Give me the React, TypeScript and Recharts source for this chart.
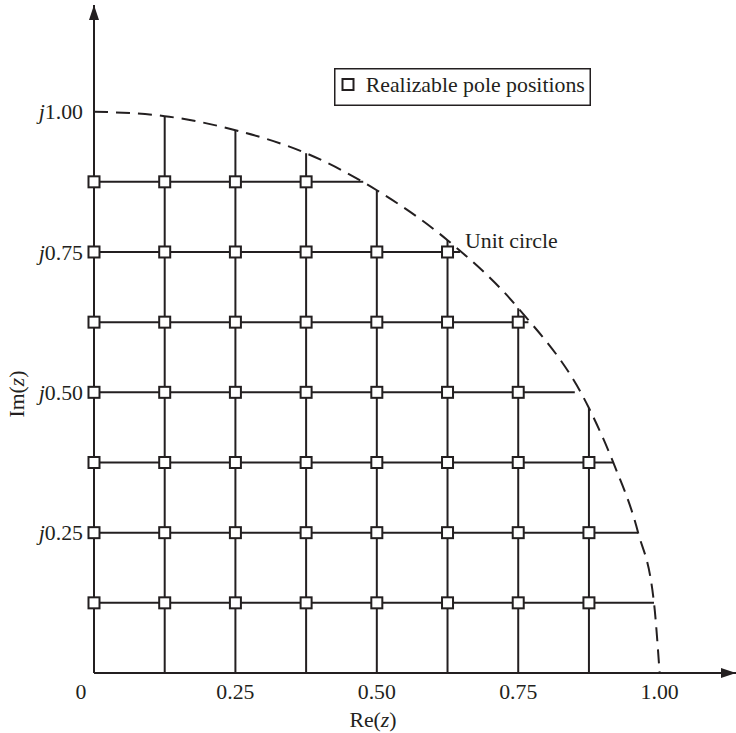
import React from 'react'
import { ComposedChart, Legend, Line, ReferenceDot, ReferenceLine, Scatter, XAxis, YAxis } from 'recharts'

// grid steps (Re and Im) of the quantized pole lattice
const gridSteps = [0.125, 0.25, 0.375, 0.5, 0.625, 0.75, 0.875]
// height where each vertical grid line stops at the dashed circle
const colTops = [0.992, 0.967, 0.926, 0.86, 0.771, 0.65, 0.472]
// Re where each horizontal grid line stops at the dashed circle
const rowEnds = [0.99, 0.962, 0.918, 0.85, 0.768, 0.647, 0.476]
// right-most realizable pole on each row (same order as gridSteps)
const rowPoleMax = [0.875, 0.875, 0.875, 0.75, 0.75, 0.625, 0.375]
const poleRe = [0, 0.125, 0.25, 0.375, 0.5, 0.625, 0.75, 0.875]

// dashed unit circle
const circleRe = [0, 0.125, 0.25, 0.375, 0.5, 0.625, 0.75, 0.875, 0.918, 0.962, 0.99, 1.0]
const circleIm = [1.0, 0.992, 0.967, 0.926, 0.86, 0.771, 0.65, 0.472, 0.375, 0.25, 0.125, 0]

const xTicks = [0, 0.25, 0.5, 0.75, 1.0]
const yTicks = [0.25, 0.5, 0.75, 1.0]

const poles = gridSteps.flatMap((im, i) =>
  poleRe.filter((re) => re <= rowPoleMax[i]).map((re) => ({ re, im }))
)
const circle = circleRe.map((re, i) => ({ re, im: circleIm[i] }))

const INK = '#231f20'
const FONT = '"Liberation Serif", "Times New Roman", serif'
const FS = 21.8

const XTick = ({ x, y, payload }: any) => {
  const v = payload.value
  return (
    <text x={v === 0 ? x - 13 : x} y={y + 26} textAnchor="middle" fontFamily={FONT} fontSize={FS} fill={INK}>
      {v === 0 ? '0' : v.toFixed(2)}
    </text>
  )
}

const YTick = ({ x, y, payload }: any) => (
  <text x={x} y={y} dy="0.35em" textAnchor="end" fontFamily={FONT} fontSize={FS} fill={INK}>
    <tspan fontStyle="italic">j</tspan>
    {payload.value.toFixed(2)}
  </text>
)

const PoleSquare = ({ cx, cy }: any) => (
  <rect x={cx - 5.5} y={cy - 5.5} width={11} height={11} fill="#fff" stroke={INK} strokeWidth={2} />
)

const PoleLegend = ({ payload }: any) => {
  const item = (payload || []).find((p: any) => p.type !== 'none')
  return (
    <svg width={257} height={38} style={{ display: 'block' }}>
      <rect x={0.75} y={0.75} width={255.5} height={36.5} fill="#fff" stroke={INK} strokeWidth={1.5} />
      <rect x={8.5} y={11} width={11} height={11} fill="#fff" stroke={INK} strokeWidth={2} />
      <text x={31.7} y={24} fontFamily={FONT} fontSize={FS} fill={INK}>
        {item ? item.value : 'Realizable pole positions'}
      </text>
    </svg>
  )
}

export default function App() {
  return (
    <div style={{ position: 'absolute', left: 0, top: 0 }}>
      <ComposedChart width={736} height={733} margin={{ top: 5, right: 0, bottom: 20, left: 0 }}>
        <XAxis
          type="number"
          dataKey="re"
          domain={[0, 1.135]}
          ticks={xTicks}
          interval={0}
          height={40}
          tickSize={0}
          tickMargin={0}
          tickLine={false}
          axisLine={{ stroke: INK, strokeWidth: 2 }}
          tick={<XTick />}
          label={(props: any) => {
            const vb = props.viewBox
            return (
              <text x={vb.x + 279} y={vb.y + 54} textAnchor="middle" fontFamily={FONT} fontSize={FS} fill={INK}>
                Re(<tspan fontStyle="italic">z</tspan>)
              </text>
            )
          }}
        />
        <YAxis
          type="number"
          domain={[0, 1.19]}
          ticks={yTicks}
          interval={0}
          width={94}
          tickSize={0}
          tickMargin={11}
          tickLine={false}
          axisLine={{ stroke: INK, strokeWidth: 2 }}
          tick={<YTick />}
          label={() => (
            <text transform="translate(24, 394) rotate(-90)" textAnchor="middle" fontFamily={FONT} fontSize={FS} fill={INK}>
              Im(<tspan fontStyle="italic">z</tspan>)
            </text>
          )}
        />
        {gridSteps.map((re, i) => (
          <ReferenceLine
            key={`v-${re}`}
            segment={[{ x: re, y: 0 }, { x: re, y: colTops[i] }]}
            stroke={INK}
            strokeWidth={2}
          />
        ))}
        {gridSteps.map((im, i) => (
          <ReferenceLine
            key={`h-${im}`}
            segment={[{ x: 0, y: im }, { x: rowEnds[i], y: im }]}
            stroke={INK}
            strokeWidth={2}
          />
        ))}
        <Line
          data={circle}
          dataKey="im"
          type="monotone"
          stroke={INK}
          strokeWidth={2}
          strokeDasharray="14 8"
          dot={false}
          activeDot={false}
          legendType="none"
          isAnimationActive={false}
        />
        <Scatter
          name="Realizable pole positions"
          data={poles}
          dataKey="im"
          shape={<PoleSquare />}
          isAnimationActive={false}
        />
        <ReferenceDot
          x={1.135}
          y={0}
          r={0}
          ifOverflow="visible"
          shape={(p: any) => (
            <polygon points={`${p.cx},${p.cy} ${p.cx - 15},${p.cy - 5} ${p.cx - 15},${p.cy + 5}`} fill={INK} />
          )}
        />
        <ReferenceDot
          x={0}
          y={1.19}
          r={0}
          ifOverflow="visible"
          shape={(p: any) => (
            <polygon points={`${p.cx},${p.cy} ${p.cx - 5},${p.cy + 15} ${p.cx + 5},${p.cy + 15}`} fill={INK} />
          )}
        />
        <ReferenceDot
          x={0.656}
          y={0.757}
          r={0}
          ifOverflow="visible"
          shape={(p: any) => (
            <text x={p.cx} y={p.cy} fontFamily={FONT} fontSize={FS} fill={INK}>
              Unit circle
            </text>
          )}
        />
        <Legend
          verticalAlign="middle"
          align="center"
          layout="horizontal"
          content={<PoleLegend />}
          wrapperStyle={{ left: 334, top: 68, width: 257, height: 38 }}
        />
      </ComposedChart>
    </div>
  )
}
